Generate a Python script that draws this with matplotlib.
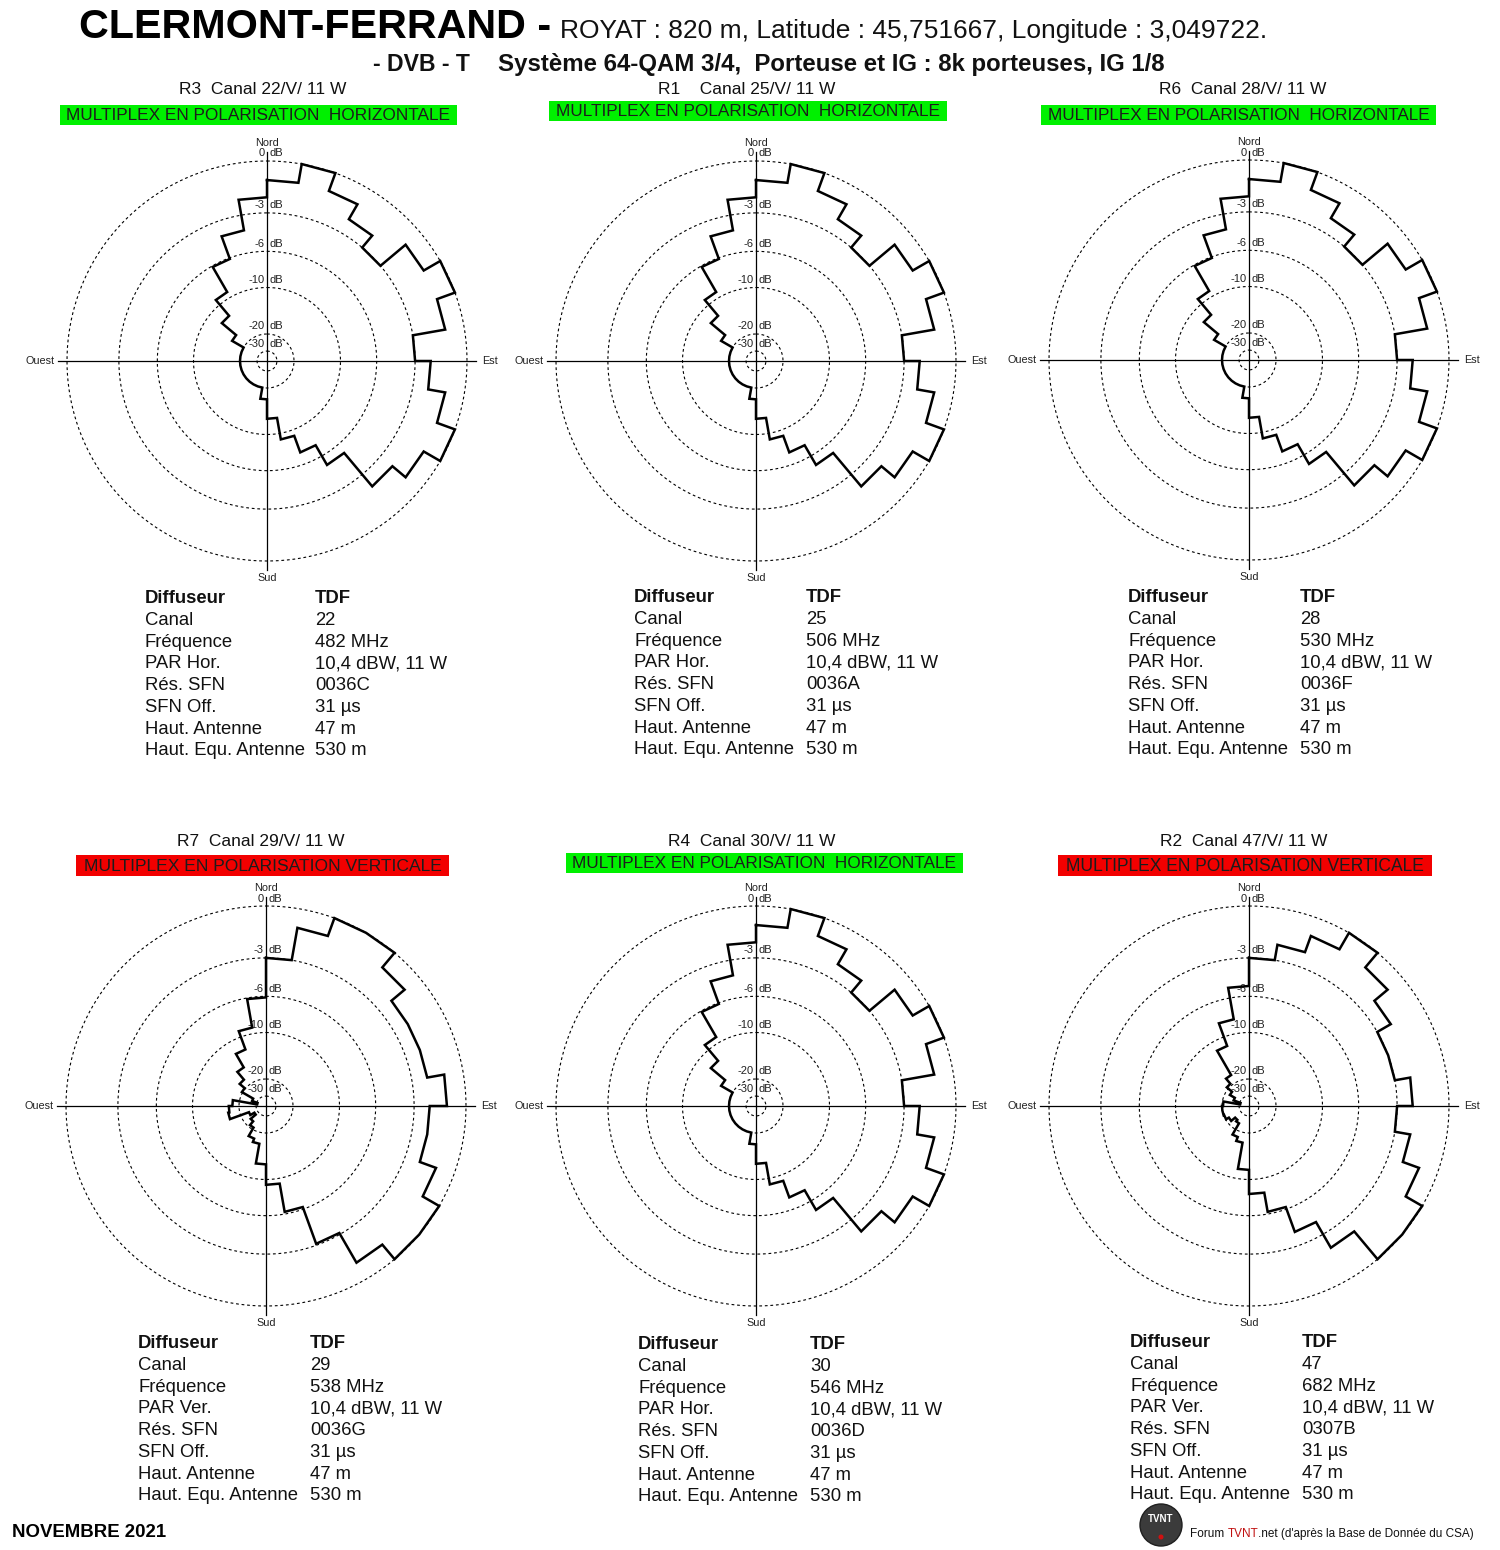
import numpy as np
import matplotlib.pyplot as plt
from matplotlib import font_manager
from matplotlib.patches import Rectangle, Circle

W, H = 1500, 1550


def has_font(name):
    try:
        font_manager.findfont(font_manager.FontProperties(family=name),
                              fallback_to_default=False)
        return True
    except ValueError:
        return False


SANS = "Liberation Sans"
NARROW = "Liberation Sans Narrow" if has_font("Liberation Sans Narrow") else SANS

# ---------------- data ----------------
# attenuation (dB) of each 10 degree sector, azimuth from North, clockwise
sector_start = np.arange(0, 360, 10)
ring_levels = [0, -3, -6, -10, -20, -30]

pattern_h = [-1, 0, -1, -2, -3, -1, 0, -1, -3, -2, -1, 0, -1, -2, -5.1, -7.2,
             -9.2, -12.4, -16.5, -20, -20, -20, -20, -20, -20, -20, -20, -20,
             -20, -20, -16, -12.2, -9.2, -6.1, -4.1, -2.0]
pattern_r7 = [-3, -1, 0, 0, -1, -2, -2, -2, -1, -2, -2, -1, 0, 0, -1, -3.1,
              -6.2, -9.3, -12.3, -16.5, -17.5, -20.8, -23, -27, -24, -16.5,
              -16.8, -17.8, -31, -26, -19.7, -17.6, -15, -12, -9.2, -6.1]
pattern_r2 = [-3, -2, -1, 0, -1, -2, -3, -3, -2, -3, -2, -1, 0, 0, -2, -4,
              -6.2, -8.2, -11.4, -16.8, -18, -23, -24, -21.5, -20.2, -20, -20,
              -20.4, -31, -25, -22, -19.3, -17.2, -11.4, -8.2, -5.1]

multiplex = ["R3", "R1", "R6", "R7", "R4", "R2"]
title_gap = ["  ", "    ", "  ", "  ", "  ", "  "]
canal = [22, 25, 28, 29, 30, 47]
frequence = [482, 506, 530, 538, 546, 682]
polarisation = ["H", "H", "H", "V", "H", "V"]
res_sfn = ["0036C", "0036A", "0036F", "0036G", "0036D", "0307B"]
patterns = [pattern_h, pattern_h, pattern_h, pattern_r7, pattern_h, pattern_r2]
diffuseur = "TDF"
par_value = "10,4 dBW, 11 W"
sfn_off = "31 µs"
haut_antenne = "47 m"
haut_equ = "530 m"

# ---------------- layout (pixels, y from top) ----------------
centers = [(267, 361), (756, 361), (1249, 360), (266, 1106), (756, 1106), (1249, 1106)]
title_pos = [(263, 90), (747, 90), (1243, 90), (261, 841), (752, 841), (1244, 841)]
boxes = [(60, 105, 457, 125), (549, 101, 947, 121), (1041, 105, 1436, 125),
         (76, 855, 449, 876), (566, 853, 963, 873), (1058, 855, 1432, 876)]
tables = [(145, 315, 603), (634, 806, 602), (1128, 1300, 602),
          (138, 310, 1348), (638, 810, 1349), (1130, 1302, 1347)]
ROW = 21.77

# radial scale of the diagrams: 0 dB ring is 200 px
K = 23.0


def db_to_r(db):
    return 10.0 ** (np.asarray(db, dtype=float) / K)


def r_to_db(r):
    return K * np.log10(np.clip(np.asarray(r, dtype=float), 1e-12, None))


R_IN, R_OUT = -120.0, 0.45
RING_PX = 200.0
half = RING_PX * (db_to_r(R_OUT) - db_to_r(R_IN)) / (db_to_r(0) - db_to_r(R_IN))


def step_outline(levels):
    az, lv = [], []
    for a, v in zip(sector_start, levels):
        az += [a, a + 10]
        lv += [v, v]
    az.append(360)
    lv.append(levels[0])
    return np.deg2rad(az), np.array(lv)


fig = plt.figure(figsize=(W / 100, H / 100), dpi=100)
fig.patch.set_facecolor("white")
page = fig.add_axes([0, 0, 1, 1])
page.set_xlim(0, W)
page.set_ylim(H, 0)
page.axis("off")
renderer = fig.canvas.get_renderer()


def fit(t, width):
    w = t.get_window_extent(renderer).width
    t.set_fontsize(t.get_fontsize() * width / w)
    return t


# ---------------- header ----------------
fit(page.text(79, 38, "CLERMONT-FERRAND -", family=SANS, weight="bold",
              fontsize=30, va="baseline", color="black"), 471)
fit(page.text(560, 38, "ROYAT : 820 m, Latitude : 45,751667, Longitude : 3,049722.",
              family=NARROW, fontsize=20, va="baseline", color="#111111"), 705)
fit(page.text(373, 71, "- DVB - T", family=NARROW, weight="bold", fontsize=16,
              va="baseline", color="#111111"), 97)
fit(page.text(498, 71, "Système 64-QAM 3/4,  Porteuse et IG : 8k porteuses, IG 1/8",
              family=NARROW, weight="bold", fontsize=16, va="baseline",
              color="#111111"), 665)

# ---------------- diagrams ----------------
theta_ring = np.linspace(0, 2 * np.pi, 721)
for i in range(6):
    cx, cy = centers[i]
    ax = fig.add_axes([(cx - half) / W, (H - cy - half) / H, 2 * half / W, 2 * half / H],
                      projection="polar")
    ax.set_theta_zero_location("N")
    ax.set_theta_direction(-1)
    ax.set_rscale("function", functions=(db_to_r, r_to_db))
    ax.set_rlim(R_IN, R_OUT)
    ax.axis("off")

    for lvl in ring_levels:
        ax.plot(theta_ring, np.full_like(theta_ring, lvl), color="black", lw=0.8,
                ls=(0, (2.5, 2.5)), clip_on=False)
        ax.annotate(str(lvl), xy=(0, lvl), xytext=(-1.8, 5.4), textcoords="offset points",
                    ha="right", va="center", fontsize=8, family=SANS,
                    color="#222222", annotation_clip=False)
        ax.annotate("dB", xy=(0, lvl), xytext=(2.0, 5.4), textcoords="offset points",
                    ha="left", va="center", fontsize=8, family=SANS,
                    color="#222222", annotation_clip=False)

    for a in (0, 180):
        ax.plot(np.deg2rad([a, a]), [R_IN, R_OUT], color="black", lw=0.9, clip_on=False)
    for a in (90, 270):
        ax.plot(np.deg2rad([a, a]), [R_IN, R_OUT], color="black", lw=0.9, clip_on=False)

    th, lv = step_outline(patterns[i])
    ax.plot(th, lv, color="black", lw=1.8, solid_joinstyle="miter", clip_on=False,
            zorder=3)

    card = [("Nord", 0, (0, 3), "center", "bottom"),
            ("Sud", 180, (0, -2), "center", "top"),
            ("Ouest", 270, (-2, 0), "right", "center"),
            ("Est", 90, (4, 0), "left", "center")]
    for name, a, off, ha, va in card:
        ax.annotate(name, xy=(np.deg2rad(a), R_OUT), xytext=off, textcoords="offset points",
                    ha=ha, va=va, fontsize=7.8, family=SANS, color="#222222",
                    annotation_clip=False)

    # title and polarisation banner
    tx, ty = title_pos[i]
    page.text(tx, ty, f"{multiplex[i]}{title_gap[i]}Canal {canal[i]}/V/ 11 W",
              ha="center", va="center", family=NARROW, fontsize=12.5, color="#111111")
    x0, y0, x1, y1 = boxes[i]
    horiz = polarisation[i] == "H"
    page.add_patch(Rectangle((x0, y0), x1 - x0, y1 - y0,
                             facecolor="#00F000" if horiz else "#F20000", edgecolor="none"))
    banner = "MULTIPLEX EN POLARISATION  HORIZONTALE" if horiz else \
        "MULTIPLEX EN POLARISATION VERTICALE"
    fit(page.text((x0 + x1) / 2, (y0 + y1) / 2 + 1, banner, ha="center", va="center",
                  family=NARROW, fontsize=12, color="#1c1c1c"), x1 - x0 - 14)

    # transmitter table
    lx, vx, by = tables[i]
    labels = ["Diffuseur", "Canal", "Fréquence",
              "PAR Hor." if horiz else "PAR Ver.",
              "Rés. SFN", "SFN Off.", "Haut. Antenne", "Haut. Equ. Antenne"]
    values = [diffuseur, str(canal[i]), f"{frequence[i]} MHz", par_value,
              res_sfn[i], sfn_off, haut_antenne, haut_equ]
    for k, (lab, val) in enumerate(zip(labels, values)):
        wt = "bold" if k == 0 else "normal"
        page.text(lx, by + k * ROW, lab, family=SANS, weight=wt, fontsize=13.3,
                  va="baseline", color="#111111")
        page.text(vx, by + k * ROW, val, family=SANS, weight=wt, fontsize=13.3,
                  va="baseline", color="#111111")

# ---------------- footer ----------------
fit(page.text(12, 1537, "NOVEMBRE 2021", family=NARROW, weight="bold", fontsize=13,
              va="baseline", color="black"), 155)

page.add_patch(Circle((1161, 1525), 21, facecolor="#3b3b3b", edgecolor="#1f1f1f", lw=1))
page.text(1161, 1519, "TVNT", ha="center", va="center", family=SANS, weight="bold",
          fontsize=7, color="white")
page.add_patch(Circle((1161, 1537), 2.5, facecolor="#d01010", edgecolor="none"))

probe = page.text(1190, 1537, "Forum TVNT.net (d'après la Base de Donnée du CSA)",
                  family=NARROW, fontsize=9, va="baseline")
fit(probe, 283)
fs = probe.get_fontsize()
probe.remove()
t_a = page.text(1190, 1537, "Forum ", family=NARROW, fontsize=fs, va="baseline",
                color="#111111")
t_b = page.annotate("TVNT", xy=(1, 0), xycoords=t_a, va="bottom", ha="left",
                    family=NARROW, fontsize=fs, color="#c01010")
page.annotate(".net (d'après la Base de Donnée du CSA)", xy=(1, 0), xycoords=t_b,
              va="bottom", ha="left", family=NARROW, fontsize=fs, color="#111111")

fig.savefig("out.png", dpi=100, facecolor="white")
